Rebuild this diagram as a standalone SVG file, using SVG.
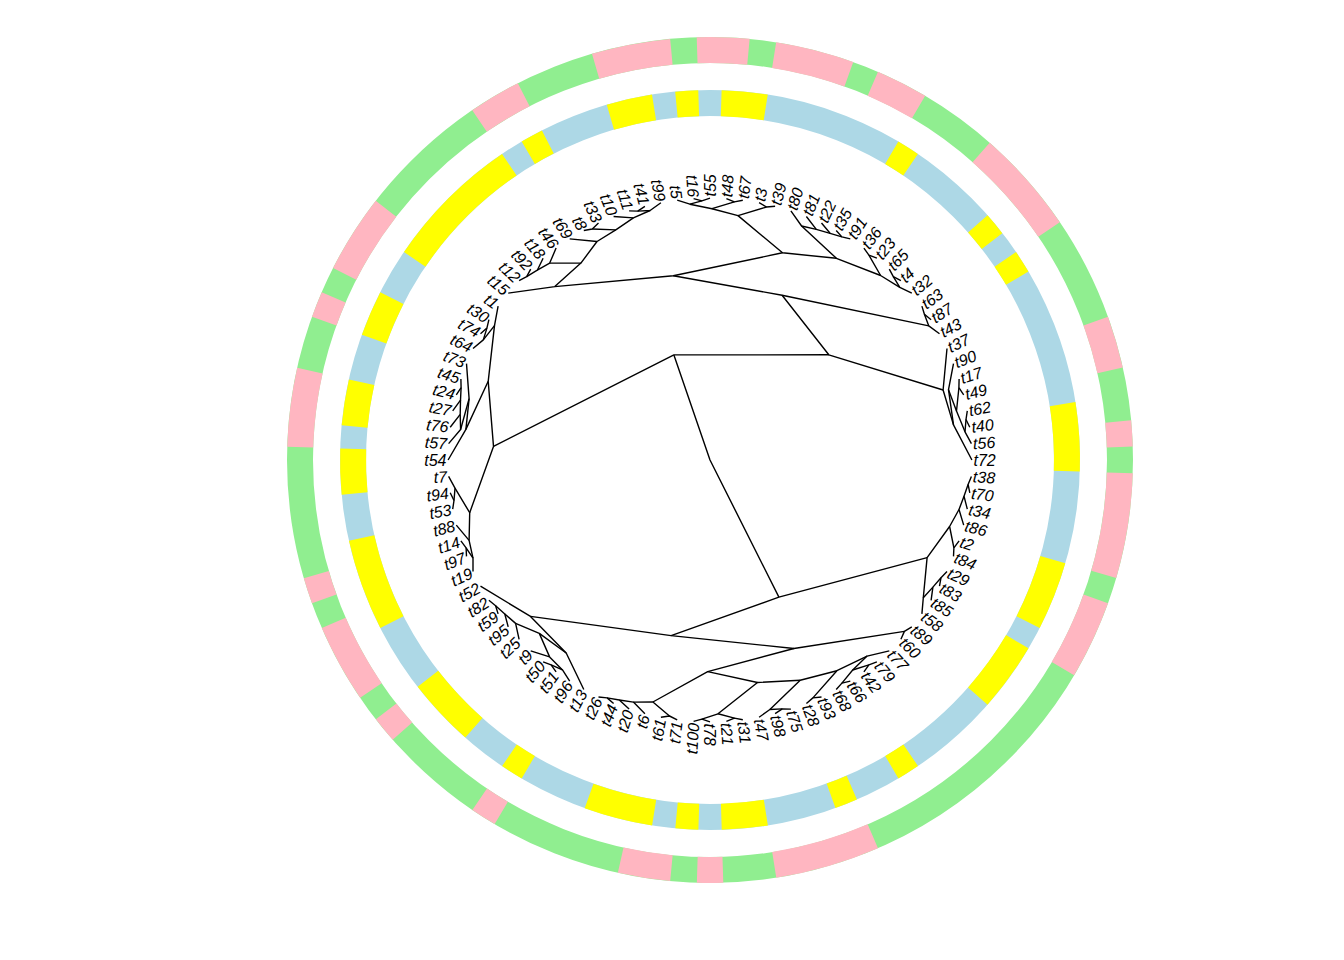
<svg xmlns="http://www.w3.org/2000/svg" width="1344" height="960" viewBox="0 0 1344 960">
<style>
.bg{fill:#ffffff}
.ring{fill:none;stroke-width:26}
.po{fill:none;stroke:#FFB6C1;stroke-width:26}
.yi{fill:none;stroke:#FFFF00;stroke-width:26}
.e{fill:none;stroke:#000;stroke-width:1.4;stroke-linejoin:round}
text{font-family:"Liberation Sans",Arial,sans-serif;font-style:italic;font-size:16px;fill:#000}
.l{text-anchor:end}
</style>
<rect class="bg" x="0" y="0" width="1344" height="960"/>
<g id="outer-ring">
<circle class="ring" cx="710" cy="460" r="410" stroke="#90EE90"/>
<circle class="po" cx="710" cy="460" r="410" pathLength="360" stroke-dasharray="7.2 360" transform="rotate(-91.8 710 460)"/>
<circle class="po" cx="710" cy="460" r="410" pathLength="360" stroke-dasharray="10.8 360" transform="rotate(-81 710 460)"/>
<circle class="po" cx="710" cy="460" r="410" pathLength="360" stroke-dasharray="7.2 360" transform="rotate(-66.6 710 460)"/>
<circle class="po" cx="710" cy="460" r="410" pathLength="360" stroke-dasharray="14.4 360" transform="rotate(-48.6 710 460)"/>
<circle class="po" cx="710" cy="460" r="410" pathLength="360" stroke-dasharray="7.2 360" transform="rotate(-19.8 710 460)"/>
<circle class="po" cx="710" cy="460" r="410" pathLength="360" stroke-dasharray="3.6 360" transform="rotate(-5.4 710 460)"/>
<circle class="po" cx="710" cy="460" r="410" pathLength="360" stroke-dasharray="14.4 360" transform="rotate(-358.2 710 460)"/>
<circle class="po" cx="710" cy="460" r="410" pathLength="360" stroke-dasharray="10.8 360" transform="rotate(-340.2 710 460)"/>
<circle class="po" cx="710" cy="460" r="410" pathLength="360" stroke-dasharray="14.4 360" transform="rotate(-293.4 710 460)"/>
<circle class="po" cx="710" cy="460" r="410" pathLength="360" stroke-dasharray="3.6 360" transform="rotate(-271.8 710 460)"/>
<circle class="po" cx="710" cy="460" r="410" pathLength="360" stroke-dasharray="7.2 360" transform="rotate(-264.6 710 460)"/>
<circle class="po" cx="710" cy="460" r="410" pathLength="360" stroke-dasharray="3.6 360" transform="rotate(-239.4 710 460)"/>
<circle class="po" cx="710" cy="460" r="410" pathLength="360" stroke-dasharray="3.6 360" transform="rotate(-221.4 710 460)"/>
<circle class="po" cx="710" cy="460" r="410" pathLength="360" stroke-dasharray="10.8 360" transform="rotate(-214.2 710 460)"/>
<circle class="po" cx="710" cy="460" r="410" pathLength="360" stroke-dasharray="3.6 360" transform="rotate(-199.8 710 460)"/>
<circle class="po" cx="710" cy="460" r="410" pathLength="360" stroke-dasharray="10.8 360" transform="rotate(-178.2 710 460)"/>
<circle class="po" cx="710" cy="460" r="410" pathLength="360" stroke-dasharray="3.6 360" transform="rotate(-160.2 710 460)"/>
<circle class="po" cx="710" cy="460" r="410" pathLength="360" stroke-dasharray="10.8 360" transform="rotate(-153 710 460)"/>
<circle class="po" cx="710" cy="460" r="410" pathLength="360" stroke-dasharray="7.2 360" transform="rotate(-124.2 710 460)"/>
<circle class="po" cx="710" cy="460" r="410" pathLength="360" stroke-dasharray="10.8 360" transform="rotate(-106.2 710 460)"/>
</g>
<g id="inner-ring">
<circle class="ring" cx="710" cy="460" r="357" stroke="#ADD8E6"/>
<circle class="yi" cx="710" cy="460" r="357" pathLength="360" stroke-dasharray="7.2 360" transform="rotate(-88.2 710 460)"/>
<circle class="yi" cx="710" cy="460" r="357" pathLength="360" stroke-dasharray="3.6 360" transform="rotate(-95.4 710 460)"/>
<circle class="yi" cx="710" cy="460" r="357" pathLength="360" stroke-dasharray="7.2 360" transform="rotate(-106.2 710 460)"/>
<circle class="yi" cx="710" cy="460" r="357" pathLength="360" stroke-dasharray="3.6 360" transform="rotate(-120.6 710 460)"/>
<circle class="yi" cx="710" cy="460" r="357" pathLength="360" stroke-dasharray="21.6 360" transform="rotate(-145.8 710 460)"/>
<circle class="yi" cx="710" cy="460" r="357" pathLength="360" stroke-dasharray="7.2 360" transform="rotate(-160.2 710 460)"/>
<circle class="yi" cx="710" cy="460" r="357" pathLength="360" stroke-dasharray="7.2 360" transform="rotate(-174.6 710 460)"/>
<circle class="yi" cx="710" cy="460" r="357" pathLength="360" stroke-dasharray="7.2 360" transform="rotate(-185.4 710 460)"/>
<circle class="yi" cx="710" cy="460" r="357" pathLength="360" stroke-dasharray="14.4 360" transform="rotate(-207 710 460)"/>
<circle class="yi" cx="710" cy="460" r="357" pathLength="360" stroke-dasharray="10.8 360" transform="rotate(-228.6 710 460)"/>
<circle class="yi" cx="710" cy="460" r="357" pathLength="360" stroke-dasharray="3.6 360" transform="rotate(-239.4 710 460)"/>
<circle class="yi" cx="710" cy="460" r="357" pathLength="360" stroke-dasharray="10.8 360" transform="rotate(-261 710 460)"/>
<circle class="yi" cx="710" cy="460" r="357" pathLength="360" stroke-dasharray="3.6 360" transform="rotate(-268.2 710 460)"/>
<circle class="yi" cx="710" cy="460" r="357" pathLength="360" stroke-dasharray="7.2 360" transform="rotate(-279 710 460)"/>
<circle class="yi" cx="710" cy="460" r="357" pathLength="360" stroke-dasharray="3.6 360" transform="rotate(-293.4 710 460)"/>
<circle class="yi" cx="710" cy="460" r="357" pathLength="360" stroke-dasharray="3.6 360" transform="rotate(-304.2 710 460)"/>
<circle class="yi" cx="710" cy="460" r="357" pathLength="360" stroke-dasharray="10.8 360" transform="rotate(-329.4 710 460)"/>
<circle class="yi" cx="710" cy="460" r="357" pathLength="360" stroke-dasharray="10.8 360" transform="rotate(-343.8 710 460)"/>
<circle class="yi" cx="710" cy="460" r="357" pathLength="360" stroke-dasharray="10.8 360" transform="rotate(-9 710 460)"/>
<circle class="yi" cx="710" cy="460" r="357" pathLength="360" stroke-dasharray="3.6 360" transform="rotate(-34.2 710 460)"/>
<circle class="yi" cx="710" cy="460" r="357" pathLength="360" stroke-dasharray="3.6 360" transform="rotate(-41.4 710 460)"/>
<circle class="yi" cx="710" cy="460" r="357" pathLength="360" stroke-dasharray="3.6 360" transform="rotate(-59.4 710 460)"/>
</g>
<g id="edges">
<path class="e" d="M673.9,354.9L710,460L778.9,597.1"/>
<path class="e" d="M828.8,354.8L673.9,354.9L493.5,446.4"/>
<path class="e" d="M943.1,390L828.8,354.8L782.1,295.2"/>
<path class="e" d="M953.5,424.9L943.1,390L947,348.5"/>
<path class="e" d="M971.9,460L953.5,424.9L948.5,389.7"/>
<path class="e" d="M956.5,411L948.5,389.7L953.5,363.6"/>
<path class="e" d="M965,431.8L956.5,411L958.9,387.7"/>
<path class="e" d="M971.4,443.6L965,431.8L966,419.5"/>
<path class="e" d="M969.8,427.2L966,419.5L967.3,410.9"/>
<path class="e" d="M963.7,394.9L958.9,387.7L959.1,379.1"/>
<path class="e" d="M928.8,325.9L782.1,295.2L673.3,275.8"/>
<path class="e" d="M939.5,333.8L928.8,325.9L924.4,314.3"/>
<path class="e" d="M931.1,319.7L924.4,314.3L921.9,306.1"/>
<path class="e" d="M554.8,286.6L673.3,275.8L782.5,252.8"/>
<path class="e" d="M738,215.6L782.5,252.8L836.4,258.3"/>
<path class="e" d="M880.6,275.5L836.4,258.3L801.6,226"/>
<path class="e" d="M899.8,287.3L880.6,275.5L868.9,255.2"/>
<path class="e" d="M911.8,293.1L899.8,287.3L893.3,276.7"/>
<path class="e" d="M900.9,280.7L893.3,276.7L889.3,269.1"/>
<path class="e" d="M876.9,258.2L868.9,255.2L863.9,248.1"/>
<path class="e" d="M790.9,210.9L801.6,226L816.3,229.4"/>
<path class="e" d="M806.4,216.5L816.3,229.4L830.1,233.3"/>
<path class="e" d="M821.5,223L830.1,233.3L841.9,236.9"/>
<path class="e" d="M836.2,230.5L841.9,236.9L850.3,238.9"/>
<path class="e" d="M766.5,207L738,215.6L712,208.7"/>
<path class="e" d="M775.1,206.3L766.5,207L759.1,202.7"/>
<path class="e" d="M734.4,201.9L712,208.7L689.9,204.2"/>
<path class="e" d="M742.8,200.2L734.4,201.9L726.4,198.6"/>
<path class="e" d="M701.9,200.9L689.9,204.2L677.2,200.2"/>
<path class="e" d="M710,198.1L701.9,200.9L693.6,198.6"/>
<path class="e" d="M580.9,263.1L554.8,286.6L508.2,293.1"/>
<path class="e" d="M597,241.5L580.9,263.1L549.7,263.1"/>
<path class="e" d="M615.8,229.9L597,241.5L569.7,238.9"/>
<path class="e" d="M633.4,217.9L615.8,229.9L592.3,229"/>
<path class="e" d="M650.1,210.5L633.4,217.9L613.6,216.5"/>
<path class="e" d="M660.9,202.7L650.1,210.5L637.7,211.1"/>
<path class="e" d="M644.9,206.3L637.7,211.1L629.1,210.9"/>
<path class="e" d="M598.5,223L592.3,229L583.8,230.5"/>
<path class="e" d="M556.1,248.1L549.7,263.1L537.3,270.2"/>
<path class="e" d="M543.1,258.2L537.3,270.2L526.7,276.7"/>
<path class="e" d="M530.7,269.1L526.7,276.7L519.1,280.7"/>
<path class="e" d="M488.2,381.3L493.5,446.4L469.7,512.7"/>
<path class="e" d="M494.5,325.6L488.2,381.3L465.9,429.4"/>
<path class="e" d="M498.1,306.1L494.5,325.6L483.3,339.9"/>
<path class="e" d="M473,348.5L483.3,339.9L486.9,328.1"/>
<path class="e" d="M488.9,319.7L486.9,328.1L480.5,333.8"/>
<path class="e" d="M469.1,398.6L465.9,429.4L448.1,460"/>
<path class="e" d="M466.5,363.6L469.1,398.6L460.6,429.5"/>
<path class="e" d="M460.2,414.4L460.6,429.5L448.6,443.6"/>
<path class="e" d="M460.5,400.1L460.2,414.4L450.2,427.2"/>
<path class="e" d="M461.1,387.7L460.5,400.1L452.7,410.9"/>
<path class="e" d="M460.9,379.1L461.1,387.7L456.3,394.9"/>
<path class="e" d="M455,488.2L469.7,512.7L469.1,540.4"/>
<path class="e" d="M448.6,476.4L455,488.2L454,500.5"/>
<path class="e" d="M450.2,492.8L454,500.5L452.7,509.1"/>
<path class="e" d="M456.3,525.1L469.1,540.4L473,558.2"/>
<path class="e" d="M466.1,547.8L473,558.2L473,571.5"/>
<path class="e" d="M460.9,540.9L466.1,547.8L466.5,556.4"/>
<path class="e" d="M927.1,557.6L778.9,597.1L671.1,635.6"/>
<path class="e" d="M949.6,526.5L927.1,557.6L923.3,597.7"/>
<path class="e" d="M959,509.5L949.6,526.5L953.9,547.8"/>
<path class="e" d="M959.1,540.9L953.9,547.8L953.5,556.4"/>
<path class="e" d="M963.7,525.1L959,509.5L964,496.2"/>
<path class="e" d="M967.3,509.1L964,496.2L968.1,484.4"/>
<path class="e" d="M969.8,492.8L968.1,484.4L971.4,476.4"/>
<path class="e" d="M921.9,613.9L923.3,597.7L932.9,587.1"/>
<path class="e" d="M931.1,600.3L932.9,587.1L941,577.7"/>
<path class="e" d="M939.5,586.2L941,577.7L947,571.5"/>
<path class="e" d="M530.5,616.4L671.1,635.6L793.9,648.5"/>
<path class="e" d="M480.5,586.2L530.5,616.4L566.2,653"/>
<path class="e" d="M539.3,633.4L566.2,653L583.8,689.5"/>
<path class="e" d="M515.6,623.4L539.3,633.4L549.6,656.9"/>
<path class="e" d="M504.8,614L515.6,623.4L519.1,639.3"/>
<path class="e" d="M495.6,605.7L504.8,614L508.2,626.9"/>
<path class="e" d="M488.9,600.3L495.6,605.7L498.1,613.9"/>
<path class="e" d="M530.7,650.9L549.6,656.9L562.5,669.9"/>
<path class="e" d="M551.1,664.8L562.5,669.9L569.7,681.1"/>
<path class="e" d="M543.1,661.8L551.1,664.8L556.1,671.9"/>
<path class="e" d="M707.7,671.6L793.9,648.5L904.4,631.4"/>
<path class="e" d="M900.9,639.3L904.4,631.4L911.8,626.9"/>
<path class="e" d="M652.9,702L707.7,671.6L757.5,682.5"/>
<path class="e" d="M633.4,702.1L652.9,702L669.5,716"/>
<path class="e" d="M619.3,700L633.4,702.1L644.9,713.7"/>
<path class="e" d="M607.1,697.9L619.3,700L629.1,709.1"/>
<path class="e" d="M598.5,697L607.1,697.9L613.6,703.5"/>
<path class="e" d="M660.9,717.3L669.5,716L677.2,719.8"/>
<path class="e" d="M718,713.8L757.5,682.5L800.2,680.3"/>
<path class="e" d="M701.9,719.1L718,713.8L734.4,718.1"/>
<path class="e" d="M693.6,721.4L701.9,719.1L710,721.9"/>
<path class="e" d="M726.4,721.4L734.4,718.1L742.8,719.8"/>
<path class="e" d="M769.9,709.5L800.2,680.3L836.9,670.7"/>
<path class="e" d="M759.1,717.3L769.9,709.5L782.3,708.9"/>
<path class="e" d="M775.1,713.7L782.3,708.9L790.9,709.1"/>
<path class="e" d="M812.9,697.9L836.9,670.7L867.1,656.1"/>
<path class="e" d="M806.4,703.5L812.9,697.9L821.5,697"/>
<path class="e" d="M852.7,670L867.1,656.1L889.3,650.9"/>
<path class="e" d="M841.9,683.1L852.7,670L868.9,664.8"/>
<path class="e" d="M836.2,689.5L841.9,683.1L850.3,681.1"/>
<path class="e" d="M863.9,671.9L868.9,664.8L876.9,661.8"/>
</g>
<g id="tip-labels">
<g id="tip-t72"><text x="973.5" y="460" dy=".36em" transform="rotate(0 710 460)">t72</text></g>
<g id="tip-t56"><text x="973.5" y="460" dy=".36em" transform="rotate(-3.6 710 460)">t56</text></g>
<g id="tip-t40"><text x="973.5" y="460" dy=".36em" transform="rotate(-7.2 710 460)">t40</text></g>
<g id="tip-t62"><text x="973.5" y="460" dy=".36em" transform="rotate(-10.8 710 460)">t62</text></g>
<g id="tip-t49"><text x="973.5" y="460" dy=".36em" transform="rotate(-14.4 710 460)">t49</text></g>
<g id="tip-t17"><text x="973.5" y="460" dy=".36em" transform="rotate(-18 710 460)">t17</text></g>
<g id="tip-t90"><text x="973.5" y="460" dy=".36em" transform="rotate(-21.6 710 460)">t90</text></g>
<g id="tip-t37"><text x="973.5" y="460" dy=".36em" transform="rotate(-25.2 710 460)">t37</text></g>
<g id="tip-t43"><text x="973.5" y="460" dy=".36em" transform="rotate(-28.8 710 460)">t43</text></g>
<g id="tip-t87"><text x="973.5" y="460" dy=".36em" transform="rotate(-32.4 710 460)">t87</text></g>
<g id="tip-t63"><text x="973.5" y="460" dy=".36em" transform="rotate(-36 710 460)">t63</text></g>
<g id="tip-t32"><text x="973.5" y="460" dy=".36em" transform="rotate(-39.6 710 460)">t32</text></g>
<g id="tip-t4"><text x="973.5" y="460" dy=".36em" transform="rotate(-43.2 710 460)">t4</text></g>
<g id="tip-t65"><text x="973.5" y="460" dy=".36em" transform="rotate(-46.8 710 460)">t65</text></g>
<g id="tip-t23"><text x="973.5" y="460" dy=".36em" transform="rotate(-50.4 710 460)">t23</text></g>
<g id="tip-t36"><text x="973.5" y="460" dy=".36em" transform="rotate(-54 710 460)">t36</text></g>
<g id="tip-t91"><text x="973.5" y="460" dy=".36em" transform="rotate(-57.6 710 460)">t91</text></g>
<g id="tip-t35"><text x="973.5" y="460" dy=".36em" transform="rotate(-61.2 710 460)">t35</text></g>
<g id="tip-t22"><text x="973.5" y="460" dy=".36em" transform="rotate(-64.8 710 460)">t22</text></g>
<g id="tip-t81"><text x="973.5" y="460" dy=".36em" transform="rotate(-68.4 710 460)">t81</text></g>
<g id="tip-t80"><text x="973.5" y="460" dy=".36em" transform="rotate(-72 710 460)">t80</text></g>
<g id="tip-t39"><text x="973.5" y="460" dy=".36em" transform="rotate(-75.6 710 460)">t39</text></g>
<g id="tip-t3"><text x="973.5" y="460" dy=".36em" transform="rotate(-79.2 710 460)">t3</text></g>
<g id="tip-t67"><text x="973.5" y="460" dy=".36em" transform="rotate(-82.8 710 460)">t67</text></g>
<g id="tip-t48"><text x="973.5" y="460" dy=".36em" transform="rotate(-86.4 710 460)">t48</text></g>
<g id="tip-t55"><text x="973.5" y="460" dy=".36em" transform="rotate(-90 710 460)">t55</text></g>
<g id="tip-t16"><text class="l" x="446.5" y="460" dy=".36em" transform="rotate(86.4 710 460)">t16</text></g>
<g id="tip-t5"><text class="l" x="446.5" y="460" dy=".36em" transform="rotate(82.8 710 460)">t5</text></g>
<g id="tip-t99"><text class="l" x="446.5" y="460" dy=".36em" transform="rotate(79.2 710 460)">t99</text></g>
<g id="tip-t41"><text class="l" x="446.5" y="460" dy=".36em" transform="rotate(75.6 710 460)">t41</text></g>
<g id="tip-t11"><text class="l" x="446.5" y="460" dy=".36em" transform="rotate(72 710 460)">t11</text></g>
<g id="tip-t10"><text class="l" x="446.5" y="460" dy=".36em" transform="rotate(68.4 710 460)">t10</text></g>
<g id="tip-t33"><text class="l" x="446.5" y="460" dy=".36em" transform="rotate(64.8 710 460)">t33</text></g>
<g id="tip-t8"><text class="l" x="446.5" y="460" dy=".36em" transform="rotate(61.2 710 460)">t8</text></g>
<g id="tip-t69"><text class="l" x="446.5" y="460" dy=".36em" transform="rotate(57.6 710 460)">t69</text></g>
<g id="tip-t46"><text class="l" x="446.5" y="460" dy=".36em" transform="rotate(54 710 460)">t46</text></g>
<g id="tip-t18"><text class="l" x="446.5" y="460" dy=".36em" transform="rotate(50.4 710 460)">t18</text></g>
<g id="tip-t92"><text class="l" x="446.5" y="460" dy=".36em" transform="rotate(46.8 710 460)">t92</text></g>
<g id="tip-t12"><text class="l" x="446.5" y="460" dy=".36em" transform="rotate(43.2 710 460)">t12</text></g>
<g id="tip-t15"><text class="l" x="446.5" y="460" dy=".36em" transform="rotate(39.6 710 460)">t15</text></g>
<g id="tip-t1"><text class="l" x="446.5" y="460" dy=".36em" transform="rotate(36 710 460)">t1</text></g>
<g id="tip-t30"><text class="l" x="446.5" y="460" dy=".36em" transform="rotate(32.4 710 460)">t30</text></g>
<g id="tip-t74"><text class="l" x="446.5" y="460" dy=".36em" transform="rotate(28.8 710 460)">t74</text></g>
<g id="tip-t64"><text class="l" x="446.5" y="460" dy=".36em" transform="rotate(25.2 710 460)">t64</text></g>
<g id="tip-t73"><text class="l" x="446.5" y="460" dy=".36em" transform="rotate(21.6 710 460)">t73</text></g>
<g id="tip-t45"><text class="l" x="446.5" y="460" dy=".36em" transform="rotate(18 710 460)">t45</text></g>
<g id="tip-t24"><text class="l" x="446.5" y="460" dy=".36em" transform="rotate(14.4 710 460)">t24</text></g>
<g id="tip-t27"><text class="l" x="446.5" y="460" dy=".36em" transform="rotate(10.8 710 460)">t27</text></g>
<g id="tip-t76"><text class="l" x="446.5" y="460" dy=".36em" transform="rotate(7.2 710 460)">t76</text></g>
<g id="tip-t57"><text class="l" x="446.5" y="460" dy=".36em" transform="rotate(3.6 710 460)">t57</text></g>
<g id="tip-t54"><text class="l" x="446.5" y="460" dy=".36em" transform="rotate(0 710 460)">t54</text></g>
<g id="tip-t7"><text class="l" x="446.5" y="460" dy=".36em" transform="rotate(-3.6 710 460)">t7</text></g>
<g id="tip-t94"><text class="l" x="446.5" y="460" dy=".36em" transform="rotate(-7.2 710 460)">t94</text></g>
<g id="tip-t53"><text class="l" x="446.5" y="460" dy=".36em" transform="rotate(-10.8 710 460)">t53</text></g>
<g id="tip-t88"><text class="l" x="446.5" y="460" dy=".36em" transform="rotate(-14.4 710 460)">t88</text></g>
<g id="tip-t14"><text class="l" x="446.5" y="460" dy=".36em" transform="rotate(-18 710 460)">t14</text></g>
<g id="tip-t97"><text class="l" x="446.5" y="460" dy=".36em" transform="rotate(-21.6 710 460)">t97</text></g>
<g id="tip-t19"><text class="l" x="446.5" y="460" dy=".36em" transform="rotate(-25.2 710 460)">t19</text></g>
<g id="tip-t52"><text class="l" x="446.5" y="460" dy=".36em" transform="rotate(-28.8 710 460)">t52</text></g>
<g id="tip-t82"><text class="l" x="446.5" y="460" dy=".36em" transform="rotate(-32.4 710 460)">t82</text></g>
<g id="tip-t59"><text class="l" x="446.5" y="460" dy=".36em" transform="rotate(-36 710 460)">t59</text></g>
<g id="tip-t95"><text class="l" x="446.5" y="460" dy=".36em" transform="rotate(-39.6 710 460)">t95</text></g>
<g id="tip-t25"><text class="l" x="446.5" y="460" dy=".36em" transform="rotate(-43.2 710 460)">t25</text></g>
<g id="tip-t9"><text class="l" x="446.5" y="460" dy=".36em" transform="rotate(-46.8 710 460)">t9</text></g>
<g id="tip-t50"><text class="l" x="446.5" y="460" dy=".36em" transform="rotate(-50.4 710 460)">t50</text></g>
<g id="tip-t51"><text class="l" x="446.5" y="460" dy=".36em" transform="rotate(-54 710 460)">t51</text></g>
<g id="tip-t96"><text class="l" x="446.5" y="460" dy=".36em" transform="rotate(-57.6 710 460)">t96</text></g>
<g id="tip-t13"><text class="l" x="446.5" y="460" dy=".36em" transform="rotate(-61.2 710 460)">t13</text></g>
<g id="tip-t26"><text class="l" x="446.5" y="460" dy=".36em" transform="rotate(-64.8 710 460)">t26</text></g>
<g id="tip-t44"><text class="l" x="446.5" y="460" dy=".36em" transform="rotate(-68.4 710 460)">t44</text></g>
<g id="tip-t20"><text class="l" x="446.5" y="460" dy=".36em" transform="rotate(-72 710 460)">t20</text></g>
<g id="tip-t6"><text class="l" x="446.5" y="460" dy=".36em" transform="rotate(-75.6 710 460)">t6</text></g>
<g id="tip-t61"><text class="l" x="446.5" y="460" dy=".36em" transform="rotate(-79.2 710 460)">t61</text></g>
<g id="tip-t71"><text class="l" x="446.5" y="460" dy=".36em" transform="rotate(-82.8 710 460)">t71</text></g>
<g id="tip-t100"><text class="l" x="446.5" y="460" dy=".36em" transform="rotate(-86.4 710 460)">t100</text></g>
<g id="tip-t78"><text x="973.5" y="460" dy=".36em" transform="rotate(90 710 460)">t78</text></g>
<g id="tip-t21"><text x="973.5" y="460" dy=".36em" transform="rotate(86.4 710 460)">t21</text></g>
<g id="tip-t31"><text x="973.5" y="460" dy=".36em" transform="rotate(82.8 710 460)">t31</text></g>
<g id="tip-t47"><text x="973.5" y="460" dy=".36em" transform="rotate(79.2 710 460)">t47</text></g>
<g id="tip-t98"><text x="973.5" y="460" dy=".36em" transform="rotate(75.6 710 460)">t98</text></g>
<g id="tip-t75"><text x="973.5" y="460" dy=".36em" transform="rotate(72 710 460)">t75</text></g>
<g id="tip-t28"><text x="973.5" y="460" dy=".36em" transform="rotate(68.4 710 460)">t28</text></g>
<g id="tip-t93"><text x="973.5" y="460" dy=".36em" transform="rotate(64.8 710 460)">t93</text></g>
<g id="tip-t68"><text x="973.5" y="460" dy=".36em" transform="rotate(61.2 710 460)">t68</text></g>
<g id="tip-t66"><text x="973.5" y="460" dy=".36em" transform="rotate(57.6 710 460)">t66</text></g>
<g id="tip-t42"><text x="973.5" y="460" dy=".36em" transform="rotate(54 710 460)">t42</text></g>
<g id="tip-t79"><text x="973.5" y="460" dy=".36em" transform="rotate(50.4 710 460)">t79</text></g>
<g id="tip-t77"><text x="973.5" y="460" dy=".36em" transform="rotate(46.8 710 460)">t77</text></g>
<g id="tip-t60"><text x="973.5" y="460" dy=".36em" transform="rotate(43.2 710 460)">t60</text></g>
<g id="tip-t89"><text x="973.5" y="460" dy=".36em" transform="rotate(39.6 710 460)">t89</text></g>
<g id="tip-t58"><text x="973.5" y="460" dy=".36em" transform="rotate(36 710 460)">t58</text></g>
<g id="tip-t85"><text x="973.5" y="460" dy=".36em" transform="rotate(32.4 710 460)">t85</text></g>
<g id="tip-t83"><text x="973.5" y="460" dy=".36em" transform="rotate(28.8 710 460)">t83</text></g>
<g id="tip-t29"><text x="973.5" y="460" dy=".36em" transform="rotate(25.2 710 460)">t29</text></g>
<g id="tip-t84"><text x="973.5" y="460" dy=".36em" transform="rotate(21.6 710 460)">t84</text></g>
<g id="tip-t2"><text x="973.5" y="460" dy=".36em" transform="rotate(18 710 460)">t2</text></g>
<g id="tip-t86"><text x="973.5" y="460" dy=".36em" transform="rotate(14.4 710 460)">t86</text></g>
<g id="tip-t34"><text x="973.5" y="460" dy=".36em" transform="rotate(10.8 710 460)">t34</text></g>
<g id="tip-t70"><text x="973.5" y="460" dy=".36em" transform="rotate(7.2 710 460)">t70</text></g>
<g id="tip-t38"><text x="973.5" y="460" dy=".36em" transform="rotate(3.6 710 460)">t38</text></g>
</g>
</svg>
